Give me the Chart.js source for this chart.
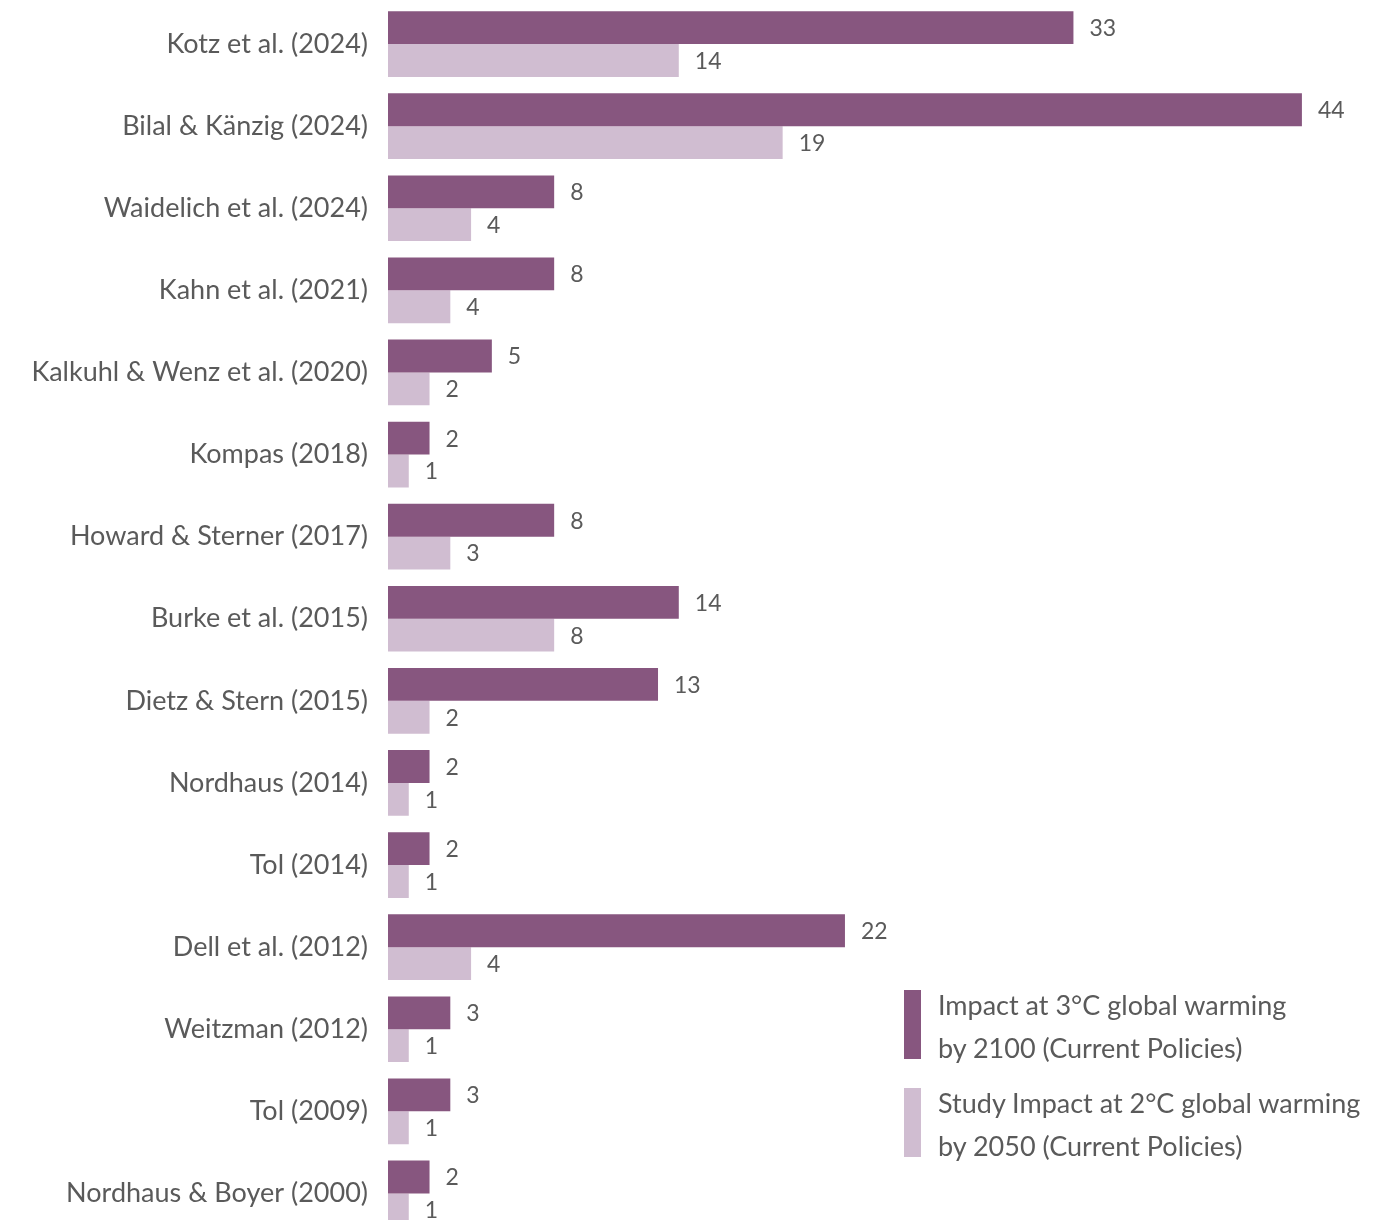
<!DOCTYPE html>
<html>
<head>
<meta charset="utf-8">
<script src="https://cdn.jsdelivr.net/npm/chart.js@4.4.1/dist/chart.umd.min.js"></script>
<style>
  html, body { margin: 0; padding: 0; background: #fff; overflow: hidden; }
  #wrap { position: relative; width: 1392px; height: 1240px; }
  .legend { position: absolute; left: 904px; font-family: Lato, "Open Sans", sans-serif; font-size: 27px; color: #5a5a5a; }
  .legend .box { position: absolute; left: 0; top: 0; width: 17px; height: 69px; }
  .legend .txt { position: absolute; left: 34px; top: -7px; line-height: 43px; white-space: nowrap; }
</style>
</head>
<body>
<div id="wrap">
  <canvas id="impactChart" width="1392" height="1240"></canvas>
  <div class="legend" style="top:990px"><div class="box" style="background:#87567f"></div><div class="txt">Impact at 3°C global warming<br>by 2100 (Current Policies)</div></div>
  <div class="legend" style="top:1088px"><div class="box" style="background:#d0bdd1"></div><div class="txt">Study Impact at 2°C global warming<br>by 2050 (Current Policies)</div></div>
</div>
<script>
// Estudos (eixo das categorias)
const studies = [
    'Kotz et al. (2024)', 'Bilal & Känzig (2024)', 'Waidelich et al. (2024)', 'Kahn et al. (2021)',
    'Kalkuhl & Wenz et al. (2020)', 'Kompas (2018)', 'Howard & Sterner (2017)', 'Burke et al. (2015)',
    'Dietz & Stern (2015)', 'Nordhaus (2014)', 'Tol (2014)', 'Dell et al. (2012)',
    'Weitzman (2012)', 'Tol (2009)', 'Nordhaus & Boyer (2000)'
];

// Impacto a 3°C até 2100
const impact3C = [33, 44, 8, 8, 5, 2, 8, 14, 13, 2, 2, 22, 3, 3, 2];
// Impacto a 2°C até 2050
const impact2C = [14, 19, 4, 3, 2, 1, 3, 8, 2, 1, 1, 4, 1, 1, 1];

// Rótulos exibidos ao lado das barras
const labels3C = ['33', '44', '8', '8', '5', '2', '8', '14', '13', '2', '2', '22', '3', '3', '2'];
const labels2C = ['14', '19', '4', '4', '2', '1', '3', '8', '2', '1', '1', '4', '1', '1', '1'];

const textColor = '#5a5a5a';
const fontFamily = 'Lato, "Open Sans", sans-serif';

// Plugin para escrever os valores no fim de cada barra
const valueLabels = {
    id: 'valueLabels',
    afterDatasetsDraw(chart) {
        const ctx = chart.ctx;
        const texts = [labels3C, labels2C];
        ctx.save();
        ctx.font = '23px ' + fontFamily;
        ctx.fillStyle = textColor;
        ctx.textBaseline = 'middle';
        ctx.textAlign = 'left';
        chart.data.datasets.forEach((ds, di) => {
            chart.getDatasetMeta(di).data.forEach((bar, i) => {
                ctx.fillText(texts[di][i], bar.x + 16, bar.y + 1);
            });
        });
        ctx.restore();
    }
};

new Chart(document.getElementById('impactChart'), {
    type: 'bar',
    data: {
        labels: studies,
        datasets: [{
            label: 'Impact at 3°C global warming by 2100 (Current Policies)',
            data: impact3C,
            backgroundColor: '#87567f',
            categoryPercentage: 0.8,
            barPercentage: 1.0
        }, {
            label: 'Study Impact at 2°C global warming by 2050 (Current Policies)',
            data: impact2C,
            backgroundColor: '#d0bdd1',
            categoryPercentage: 0.8,
            barPercentage: 1.0
        }]
    },
    options: {
        indexAxis: 'y',
        responsive: false,
        animation: false,
        layout: { padding: { top: 3, bottom: 5.5, right: 7, left: 0 } },
        plugins: {
            legend: { display: false },
            tooltip: { enabled: false }
        },
        scales: {
            x: {
                display: false,
                min: 0,
                max: 48
            },
            y: {
                grid: { display: false },
                border: { display: false },
                ticks: {
                    color: textColor,
                    font: { family: fontFamily, size: 27 },
                    padding: 12
                },
                afterFit(scale) {
                    scale.width = 388;
                    scale.paddingTop = 0;
                    scale.paddingBottom = 0;
                }
            }
        }
    },
    plugins: [valueLabels]
});
</script>
</body>
</html>
